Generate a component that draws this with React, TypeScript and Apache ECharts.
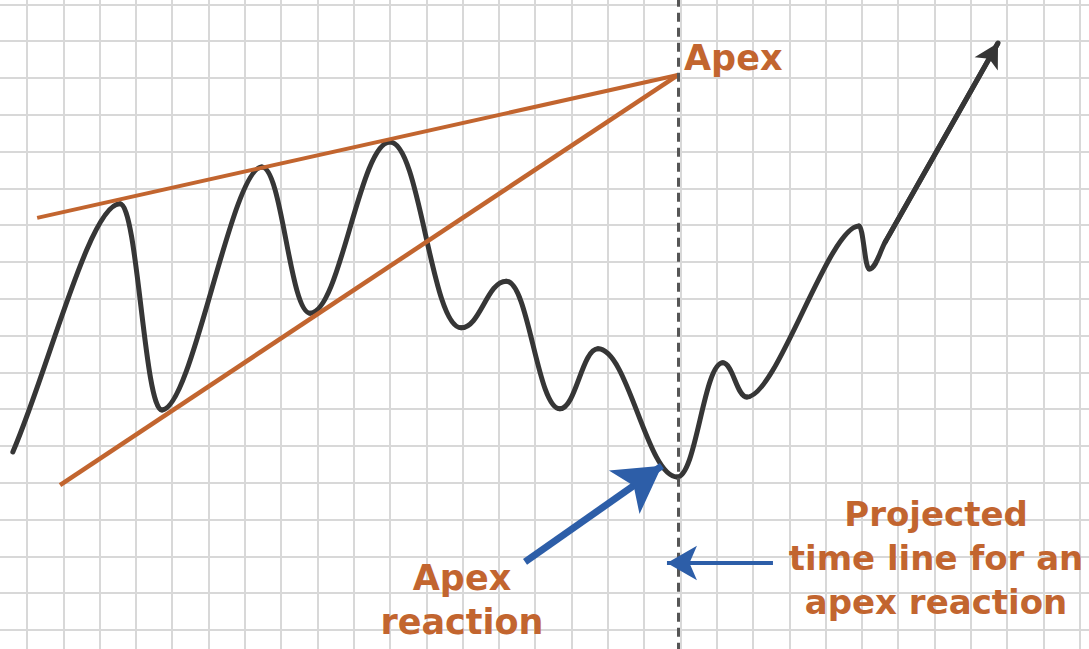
import React, { useEffect, useRef } from "react";
import * as echarts from "echarts";

// Grid units: one cell of the squared paper = 1 unit.
// Turning points of the price path (start, peaks, troughs, end of arrow).
const curveX = [-0.39, 2.56, 3.72, 6.47, 7.8, 10.0, 11.96, 13.2, 14.68, 15.73, 17.91, 19.17, 19.83, 22.92, 23.2, 23.64, 26.75];
const curveY = [4.84, 11.58, 5.98, 12.58, 8.61, 13.26, 8.21, 9.48, 6.01, 7.64, 4.16, 7.26, 6.33, 10.98, 9.81, 10.54, 15.95];

const apex = [17.93, 15.08];
const upperStart = [0.28, 11.2];
const lowerStart = [0.91, 3.94];

const reactionArrowFrom = [13.72, 1.85];
const reactionArrowTo = [17.49, 4.46];
const timeArrowFrom = [20.55, 1.82];
const timeArrowTo = [17.63, 1.82];

const xMin = -1;
const xMax = 30;
const yMin = -1;
const yMax = 18;

const ORANGE = "#c2652f";
const BLUE = "#2d5ea8";
const INK = "#363636";
const FONT = "'DejaVu Sans', 'Open Sans', sans-serif";

export default function App() {
  const ref = useRef<HTMLDivElement>(null);
  useEffect(() => {
    if (!ref.current) return;
    const chart = echarts.init(ref.current, null, { renderer: "svg" });
    const curve = curveX.map((x, i) => [x, curveY[i]]);
    const n = curve.length;

    const renderSegment = (params: any, api: any) => {
      const i = params.dataIndex;
      if (i === 0) return null;
      const P = curve.map((p) => api.coord(p));
      const dirAt = (k: number) => {
        // unit tangent at point k; horizontal at turning points
        const prev = P[Math.max(k - 1, 0)];
        const next = P[Math.min(k + 1, n - 1)];
        if (k > 0 && k < n - 1) {
          const a = P[k][1] - prev[1];
          const b = next[1] - P[k][1];
          if (a * b < 0) return [1, 0];
        }
        const dx = next[0] - prev[0];
        const dy = next[1] - prev[1];
        const len = Math.hypot(dx, dy) || 1;
        return [dx / len, dy / len];
      };
      const a = P[i - 1];
      const b = P[i];
      const da = dirAt(i - 1);
      const db = dirAt(i);
      const segLen = Math.hypot(b[0] - a[0], b[1] - a[1]);
      const turnHandle = Math.min((b[0] - a[0]) * 0.42, 30);
      const ha = da[1] === 0 ? turnHandle : segLen / 3;
      const hb = db[1] === 0 ? turnHandle : segLen / 3;
      return {
        type: "bezierCurve",
        shape: {
          x1: a[0],
          y1: a[1],
          cpx1: a[0] + da[0] * ha,
          cpy1: a[1] + da[1] * ha,
          cpx2: b[0] - db[0] * hb,
          cpy2: b[1] - db[1] * hb,
          x2: b[0],
          y2: b[1],
        },
        style: { stroke: INK, lineWidth: 5, fill: null, lineCap: "round" },
        silent: true,
      };
    };

    const txt = (text: string, x: number, y: number, align: string, size: number) => ({
      type: "text",
      x,
      y,
      z: 100,
      silent: true,
      style: {
        text,
        fill: ORANGE,
        font: `bold ${size}px ${FONT}`,
        lineHeight: 44,
        textAlign: align,
        textVerticalAlign: "middle",
      },
    });

    chart.setOption({
      animation: false,
      backgroundColor: "#ffffff",
      grid: {
        left: -9.3,
        right: -27,
        top: -32.4,
        bottom: -17.8,
        containLabel: false,
        outerBoundsMode: "none",
      },
      xAxis: {
        type: "value",
        min: xMin,
        max: xMax,
        interval: 1,
        axisLine: { show: false },
        axisTick: { show: false },
        axisLabel: { show: false },
        splitLine: { show: true, lineStyle: { color: "#d8d8d8", width: 2 } },
      },
      yAxis: {
        type: "value",
        min: yMin,
        max: yMax,
        interval: 1,
        axisLine: { show: false },
        axisTick: { show: false },
        axisLabel: { show: false },
        splitLine: { show: true, lineStyle: { color: "#d8d8d8", width: 2 } },
      },
      series: [
        {
          type: "custom",
          name: "Price",
          data: curve,
          renderItem: renderSegment,
          silent: true,
          clip: false,
          markLine: {
            silent: true,
            symbol: ["none", "arrow"],
            symbolSize: [20, 24],
            label: { show: false },
            lineStyle: { color: INK, width: 5, type: "solid" },
            data: [[{ coord: curve[n - 2] }, { coord: curve[n - 1] }]],
          },
        },
        {
          type: "line",
          name: "Upper trend line",
          data: [upperStart, apex],
          symbol: "none",
          silent: true,
          lineStyle: { color: ORANGE, width: 4 },
        },
        {
          type: "line",
          name: "Lower trend line",
          data: [lowerStart, apex],
          symbol: "none",
          silent: true,
          lineStyle: { color: ORANGE, width: 4.5 },
          markLine: {
            silent: true,
            symbol: ["none", "none"],
            label: { show: false },
            lineStyle: { color: "#555555", width: 3, type: [9, 6] },
            data: [{ xAxis: apex[0] }],
          },
        },
        {
          type: "line",
          name: "Annotations",
          data: [],
          silent: true,
          markLine: {
            silent: true,
            symbol: ["none", "arrow"],
            label: { show: false },
            data: [
              [
                { coord: reactionArrowFrom, lineStyle: { color: BLUE, width: 7, type: "solid" } },
                { coord: reactionArrowTo, symbolSize: [40, 46] },
              ],
              [
                { coord: timeArrowFrom, lineStyle: { color: BLUE, width: 4, type: "solid" } },
                { coord: timeArrowTo, symbolSize: [26, 30] },
              ],
            ],
            lineStyle: { color: BLUE },
          },
        },
      ],
      graphic: [
        txt("Apex", 684, 58, "left", 35),
        txt("Apex\nreaction", 462, 600, "center", 35),
        txt("Projected\ntime line for an\napex reaction", 936, 558, "center", 34),
      ],
    });
    return () => chart.dispose();
  }, []);
  return (
    <div
      ref={ref}
      style={{ position: "fixed", left: 0, top: 0, width: 1089, height: 649, background: "#fff" }}
    />
  );
}
